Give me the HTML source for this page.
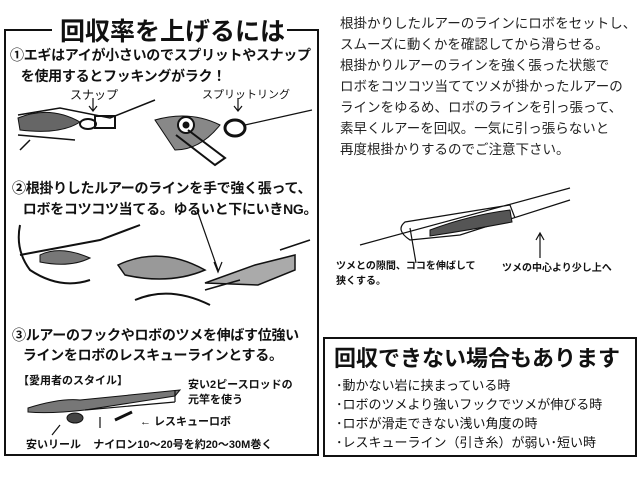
<!DOCTYPE html>
<html><head><meta charset="utf-8"><style>
body{margin:0;width:640px;height:480px;background:#fff;position:relative;overflow:hidden;font-family:"Liberation Sans","Noto Sans CJK JP",sans-serif;color:#111}
.t{position:absolute;white-space:nowrap}
</style></head><body>
<svg width="640" height="480" style="position:absolute;left:0;top:0" fill="none" stroke="#111">
<path d="M52 30 H5 V455 H318 V30 H265" stroke-width="2"/>
<rect x="324" y="338" width="312" height="118" stroke-width="2"/>
<path d="M18 115 L60 108 L110 118 L155 100" stroke-width="1.5"/>
<path d="M18 118 Q50 105 80 122 Q60 135 20 130 Z" fill="#666"/>
<path d="M18 135 L75 140 M20 150 L30 140" stroke-width="1.5"/>
<ellipse cx="88" cy="124" rx="8" ry="5" stroke-width="2"/>
<rect x="95" y="116" width="20" height="12" stroke-width="2"/>
<path d="M155 120 Q190 110 220 125 Q200 150 175 150 Z" fill="#888"/>
<circle cx="186" cy="125" r="8" fill="#fff" stroke-width="2"/>
<circle cx="186" cy="125" r="3" fill="#111"/>
<path d="M176 135 L215 165 L225 158 L188 130" stroke-width="2"/>
<ellipse cx="235" cy="128" rx="10" ry="8" stroke-width="3"/>
<path d="M245 125 L312 110" stroke-width="1.2"/>
<path d="M93 98 V110 M89 106 L93 111 L97 106 M238 98 V110 M234 106 L238 111 L242 106" stroke-width="1.2"/>
<path d="M20 225 Q15 250 30 270 Q60 290 90 280 M20 255 L100 240 L140 225" stroke-width="2"/>
<path d="M40 255 Q60 245 90 258 Q70 268 40 262 Z" fill="#777"/>
<path d="M118 265 Q160 245 205 270 Q170 285 125 275 Z" fill="#999" stroke-width="1.5"/>
<path d="M135 300 Q170 285 210 305" stroke-width="2"/>
<path d="M197 210 L218 270 M214 262 L218 272 L222 262" stroke-width="1.2"/>
<path d="M205 283 L255 265 L295 255 L295 270 L258 285 Z" fill="#aaa" stroke-width="1.5"/>
<path d="M205 290 L240 280 M280 250 L310 240" stroke-width="1.5"/>
<path d="M28 408 Q60 398 80 400 L180 390 L175 396 L85 410 Q50 414 28 412 Z" fill="#777" stroke-width="1"/>
<path d="M85 410 L175 402 M175 390 V402" stroke-width="1.2"/>
<ellipse cx="75" cy="418" rx="8" ry="5" fill="#444"/>
<path d="M115 420 L132 412" stroke-width="3"/>
<path d="M60 425 L52 435 M100 417 V428" stroke-width="1.2"/>
<path d="M360 245 L570 188 M570 200 L460 235 L410 240 Q395 230 405 222 L510 205 L515 218" stroke-width="1.2"/>
<path d="M430 230 Q470 215 510 210 L512 222 Q470 230 430 236 Z" fill="#555"/>
<path d="M410 228 L416 263 M540 233 V258 M536 240 L540 233 L544 240" stroke-width="1.2"/>
</svg>
<div class="t" style="left:58px;top:12px;font-size:25px;font-weight:bold;background:#fff;padding:0 2px">回収率を上げるには</div>
<div class="t" style="left:10px;top:45px;font-size:14px;line-height:21px;font-weight:bold;letter-spacing:-0.3px">①エギはアイが小さいのでスプリットやスナップ<br>&nbsp;&nbsp;&nbsp;を使用するとフッキングがラク！</div>
<div class="t" style="left:70px;top:86px;font-size:12px">スナップ</div>
<div class="t" style="left:202px;top:86px;font-size:11px">スプリットリング</div>
<div class="t" style="left:12px;top:178px;font-size:14px;line-height:21px;font-weight:bold;letter-spacing:-0.3px">②根掛りしたルアーのラインを手で強く張って、<br>&nbsp;&nbsp;&nbsp;ロボをコツコツ当てる。ゆるいと下にいきNG。</div>
<div class="t" style="left:12px;top:325px;font-size:14px;line-height:20px;font-weight:bold;letter-spacing:-0.3px">③ルアーのフックやロボのツメを伸ばす位強い<br>&nbsp;&nbsp;&nbsp;ラインをロボのレスキューラインとする。</div>
<div class="t" style="left:18px;top:372px;font-size:11px;font-weight:bold">【愛用者のスタイル】</div>
<div class="t" style="left:188px;top:378px;font-size:11px;line-height:15px;font-weight:bold">安い2ピースロッドの<br>元竿を使う</div>
<div class="t" style="left:140px;top:413px;font-size:11px;font-weight:bold">← レスキューロボ</div>
<div class="t" style="left:26px;top:436px;font-size:11px;font-weight:bold">安いリール&nbsp;&nbsp;&nbsp;&nbsp;ナイロン10〜20号を約20〜30M巻く</div>
<div class="t" style="left:340px;top:13px;font-size:13.5px;line-height:21px;color:#222">根掛かりしたルアーのラインにロボをセットし、<br>スムーズに動くかを確認してから滑らせる。<br>根掛かりルアーのラインを強く張った状態で<br>ロボをコツコツ当ててツメが掛かったルアーの<br>ラインをゆるめ、ロボのラインを引っ張って、<br>素早くルアーを回収。一気に引っ張らないと<br>再度根掛かりするのでご注意下さい。</div>
<div class="t" style="left:336px;top:259px;font-size:10px;line-height:15px;font-weight:bold">ツメとの隙間、ココを伸ばして<br>狭くする。</div>
<div class="t" style="left:502px;top:259px;font-size:10px;font-weight:bold">ツメの中心より少し上へ</div>
<div class="t" style="left:334px;top:341px;font-size:22px;font-weight:bold">回収できない場合もあります</div>
<div class="t" style="left:336px;top:376px;font-size:13px;line-height:19px">･動かない岩に挟まっている時<br>･ロボのツメより強いフックでツメが伸びる時<br>･ロボが滑走できない浅い角度の時<br>･レスキューライン（引き糸）が弱い･短い時</div>
</body></html>
